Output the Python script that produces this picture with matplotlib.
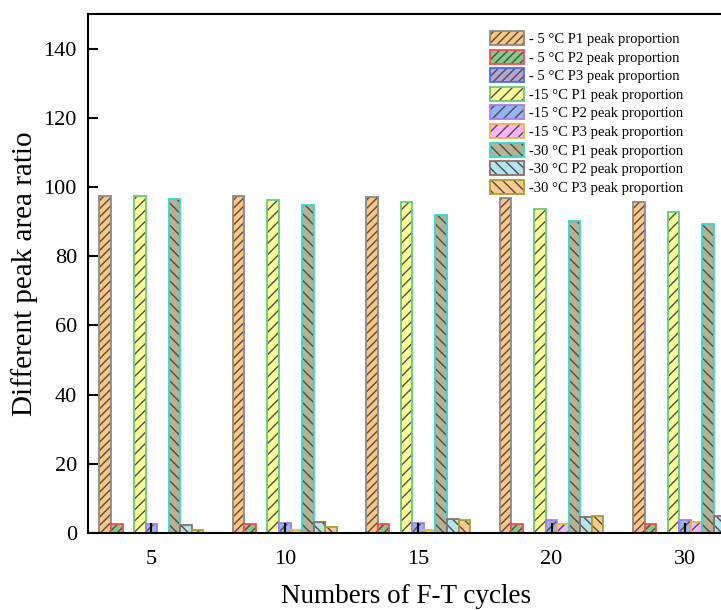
import matplotlib
matplotlib.use("Agg")
import matplotlib.pyplot as plt
import matplotlib.patches as mpatches
import numpy as np

plt.rcParams['font.family'] = ['Liberation Serif', 'DejaVu Serif']
plt.rcParams['hatch.linewidth'] = 1.0

cycles = ['5', '10', '15', '20', '30']

labels = ['- 5 \u00b0C P1 peak proportion', '- 5 \u00b0C P2 peak proportion',
          '- 5 \u00b0C P3 peak proportion', '-15 \u00b0C P1 peak proportion',
          '-15 \u00b0C P2 peak proportion', '-15 \u00b0C P3 peak proportion',
          '-30 \u00b0C P1 peak proportion', '-30 \u00b0C P2 peak proportion',
          '-30 \u00b0C P3 peak proportion']

m5_p1 = [97.3, 97.3, 97.0, 96.9, 95.8]
m5_p2 = [2.6, 2.6, 2.6, 2.6, 2.7]
m5_p3 = [0.0, 0.0, 0.0, 0.0, 0.0]
m15_p1 = [97.3, 96.1, 95.8, 93.6, 92.8]
m15_p2 = [2.7, 2.9, 2.9, 3.7, 3.8]
m15_p3 = [0.0, 0.8, 1.0, 2.5, 3.2]
m30_p1 = [96.6, 94.9, 91.8, 90.2, 89.3]
m30_p2 = [2.2, 3.2, 4.0, 4.6, 4.8]
m30_p3 = [0.8, 1.7, 3.8, 4.8, 5.6]

series = [m5_p1, m5_p2, m5_p3, m15_p1, m15_p2, m15_p3, m30_p1, m30_p2, m30_p3]

faces = ['#ffc47f', '#85c985', '#b3a4d6', '#ffff99', '#96b4f0', '#ffb4ff',
         '#b3b393', '#b0e6ee', '#ffc890']
edges = ['#8a8a8a', '#ff4a4a', '#4a6ee0', '#66cc77', '#a77ee8', '#e8b840',
         '#33d6d6', '#8f6a6a', '#a8a030']
hatches = ['////', '////', '////', '///', '///', '///',
           '\\\\\\', '\\\\\\', '\\\\\\']
hatch_col = '#4d4d4d'

fig = plt.figure(figsize=(7.21, 6.10), dpi=100)
ax = fig.add_axes([88/721, 1 - 533/610, (724 - 88)/721, (533 - 14)/610])

x = np.arange(len(cycles))
w = 0.0865
handles = []
for i, vals in enumerate(series):
    off = (i - 4) * w
    # fill + grey hatch, then coloured outline on top
    ax.bar(x + off, vals, w, color=faces[i], edgecolor=hatch_col,
           hatch=hatches[i], linewidth=0)
    ax.bar(x + off, vals, w, fill=False, edgecolor=edges[i], linewidth=1.3)
    h1 = mpatches.Patch(facecolor=faces[i], edgecolor=hatch_col,
                        hatch=hatches[i], linewidth=0)
    h2 = mpatches.Patch(fill=False, edgecolor=edges[i], linewidth=1.3)
    handles.append((h1, h2))

ax.set_xlim(-0.475, 4.293)
ax.set_ylim(0, 150)
ax.set_xticks(x)
ax.set_xticklabels(cycles)
ax.set_yticks(np.arange(0, 141, 20))
ax.tick_params(direction='in', length=7, width=1.5, labelsize=16, pad=8)
ax.tick_params(axis='x', pad=12)
for s in ax.spines.values():
    s.set_linewidth(1.5)

ax.set_xlabel('Numbers of F-T cycles', fontsize=19.5, labelpad=11)
ax.set_ylabel('Different peak area ratio', fontsize=21, labelpad=4)

leg = ax.legend(handles, labels, loc='upper left',
                bbox_to_anchor=((490 - 88)/636, (533 - 31)/519), frameon=False,
                fontsize=10.5, handlelength=2.35, handleheight=1.1,
                labelspacing=0.25, handletextpad=0.3, borderaxespad=0,
                borderpad=0)

fig.savefig('out.png', dpi=100)
